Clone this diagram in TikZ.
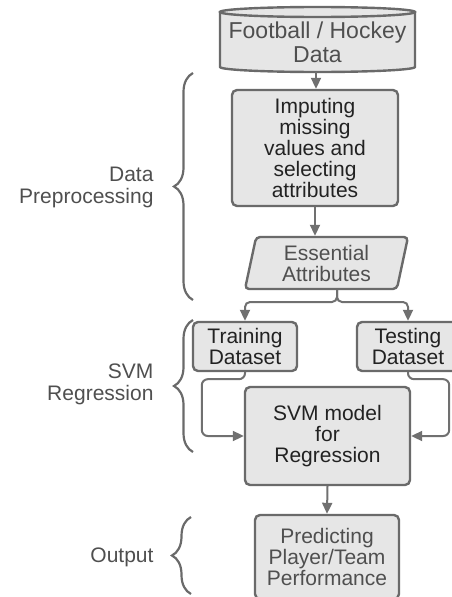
\documentclass[tikz,border=0pt]{standalone}
\usepackage{fontspec}
\setmainfont{Liberation Sans}
\usetikzlibrary{arrows.meta,shapes.geometric,decorations.pathreplacing,calc}

\definecolor{boxgray}{HTML}{E6E6E6}
\definecolor{linegray}{HTML}{6A6A6A}
\definecolor{arrgray}{HTML}{707070}
\definecolor{darktxt}{HTML}{222222}
\definecolor{softtxt}{HTML}{4F4F4F}

\begin{document}
\begin{tikzpicture}[x=1pt,y=-1pt,
  box/.style={draw=linegray, fill=boxgray, line width=2.4pt, rounded corners=5pt,
    align=center, inner sep=0pt, text=darktxt, font=\fontsize{21}{21}\selectfont},
  arr/.style={draw=arrgray, line width=2pt, -{Triangle[width=10pt,length=11pt]}},
  brc/.style={draw=linegray, line width=2.2pt, decorate, decoration={brace, amplitude=19pt}},
  lab/.style={anchor=east, align=right, text=softtxt, font=\fontsize{21}{22}\selectfont}]

\useasboundingbox (0,0) rectangle (452,597);

% database cylinder
\filldraw [draw=linegray, fill=boxgray, line width=2.4pt]
  (220,12) -- (220,67) arc [start angle=180, end angle=0, x radius=97.5, y radius=5]
  -- (415,12) -- cycle;
\filldraw [draw=linegray, fill=boxgray, line width=2.4pt] (317.5,12) ellipse [x radius=97.5, y radius=5];
\node (data) at (317.5,42) [minimum width=195pt, minimum height=60pt, inner sep=0pt, align=center,
  text=softtxt, font=\fontsize{23}{24}\selectfont] {Football / Hockey\\Data};
\coordinate (databot) at (316,72);

\node (imp) at (315,148) [box, minimum width=166pt, minimum height=116pt] {Imputing\\missing\\values and\\selecting\\attributes};
\node (ess) at (326.5,263) [box, trapezium, trapezium left angle=73, trapezium right angle=107,
  trapezium stretches body=true, minimum width=163pt, minimum height=52pt, rounded corners=4pt,
  text=softtxt] {Essential\\Attributes};

\node (train) at (245,346.5) [box, minimum width=104pt, minimum height=49pt] {Training\\Dataset};
\node (test) at (408,346.5) [box, minimum width=102pt, minimum height=49pt] {Testing\\Dataset};
\node (svm) at (327.5,436) [box, minimum width=165pt, minimum height=98pt] {SVM model\\for\\Regression};
\node (out) at (327,557) [box, minimum width=144pt, minimum height=84pt, text=softtxt] {Predicting\\Player/Team\\Performance};

\draw [arr] (databot) -- (imp.north -| databot);
\draw [arr] (imp.south) -- (imp.south |- ess.north);

\coordinate (split) at (337,302);
\draw [arr, rounded corners=5pt] (ess.south -| split) -- (split) -| (train.north);
\draw [arr, rounded corners=5pt] (ess.south -| split) -- (split) -| (test.north);

\draw [arr, rounded corners=6pt] (train.south) -- ++(0,7) -| ($(svm.west)+(-42,0)$) -- (svm.west);
\draw [arr, rounded corners=6pt] (test.south) -- ++(0,7) -| ($(svm.east)+(38,0)$) -- (svm.east);
\draw [arr] (svm.south) -- (out.north);

\draw [brc] (193,300) -- (193,73);
\node (lpre) at (157,187) [lab] {Data\\Preprocessing};
\draw [brc] (193,452) -- (193,320);
\node (lsvm) at (157,384) [lab] {SVM\\Regression};
\draw [brc] (191,594) -- (191,517);
\node (lout) at (157,557) [lab] {Output};

\end{tikzpicture}
\end{document}
